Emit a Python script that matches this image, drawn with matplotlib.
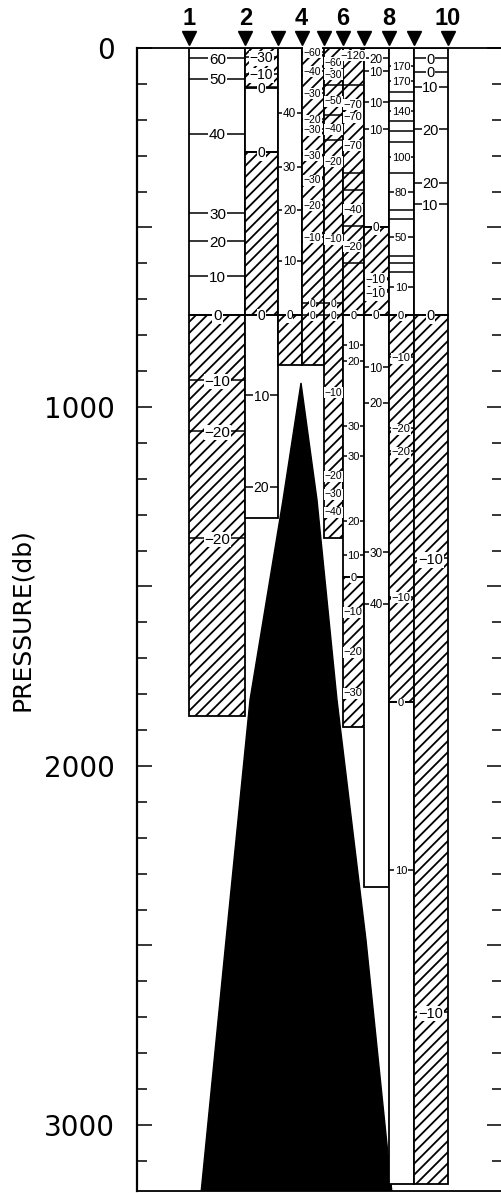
import matplotlib
matplotlib.use("Agg")
import matplotlib.pyplot as plt
from matplotlib.ticker import FixedLocator, MultipleLocator, FuncFormatter

plt.rcParams['font.family'] = ['Liberation Sans', 'DejaVu Sans']
plt.rcParams['hatch.linewidth'] = 1.3

# station positions along the section and the names shown on top
station_x = [52.5, 108.5, 140.5, 164.5, 187.0, 206.0, 226.5, 251.5, 276.5, 310.5]
station_name = ["1", "2", "", "4", "", "6", "", "8", "", "10"]

# blocks between station i and i+1 (pressure in db), hatched = negative
seg_col = [1, 1, 2, 2, 2, 2, 3, 3, 4, 5, 6, 6, 6, 7, 7, 7, 8, 8, 8, 9, 9]
seg_top = [0, 743, 0, 111, 289, 743, 0, 743, 0, 0, 0, 743, 1473, 0, 498, 743, 0, 743, 1822, 0, 743]
seg_bot = [743, 1860, 111, 289, 743, 1310, 743, 882, 882, 1366, 743, 1473, 1892, 498, 743, 2337, 743, 1822, 3165, 743, 3165]
seg_hatch = [0, 1, 1, 0, 1, 0, 0, 1, 1, 1, 1, 0, 1, 0, 1, 0, 0, 1, 0, 0, 1]

# value labels in each column: (pressure, text)
labels_1 = [(28, '60'), (86, '50'), (239, '40'), (460, '30'), (539, '20'), (636, '10'),
            (743, '0'), (925, '−10'), (1067, '−20'), (1365, '−20')]
labels_2 = [(25, '−30'), (72, '−10'), (109, '0'), (289, '0'), (743, '0'), (968, '10'), (1222, '20')]
labels_3 = [(181, '40'), (331, '30'), (451, '20'), (593, '10'), (743, '0')]
labels_4 = [(10, '−60'), (63, '−40'), (124, '−30'), (199, '−20'), (226, '−30'), (298, '−30'),
            (366, '−30'), (437, '−20'), (526, '−10'), (711, '0'), (743, '0')]
labels_5 = [(38, '−60'), (72, '−30'), (145, '−50'), (223, '−40'), (314, '−20'), (530, '−10'),
            (711, '0'), (743, '0'), (958, '−10'), (1190, '−20'), (1240, '−30'), (1290, '−40')]
labels_6 = [(19, '−120'), (155, '−70'), (190, '−70'), (270, '−70'), (448, '−40'), (551, '−20'),
            (743, '0'), (826, '10'), (873, '20'), (1054, '30'), (1136, '30'), (1318, '20'),
            (1412, '10'), (1473, '0'), (1569, '−10'), (1680, '−20'), (1795, '−30')]
labels_7 = [(28, '20'), (65, '10'), (151, '10'), (226, '10'), (498, '0'), (641, '−10'),
            (681, '−10'), (743, '0'), (890, '10'), (988, '20'), (1404, '30'), (1548, '40')]
labels_8 = [(50, '170'), (91, '170'), (175, '140'), (304, '100'), (402, '80'), (527, '50'),
            (665, '10'), (743, '0'), (862, '−10'), (1059, '−20'), (1124, '−20'), (1528, '−10'),
            (1822, '0'), (2289, '10')]
labels_9 = [(28, '0'), (66, '0'), (108, '10'), (226, '20'), (375, '20'), (435, '10'),
            (743, '0'), (1422, '−10'), (2686, '−10')]
col_labels = [labels_1, labels_2, labels_3, labels_4, labels_5, labels_6, labels_7, labels_8, labels_9]
label_size = [11, 10, 8.5, 7.5, 7.5, 8, 8.5, 8, 10.5]

# unlabeled division lines
lines_5 = [103, 187, 257]
lines_6 = [103, 347, 395, 497, 600]
lines_8 = [122, 147, 204, 231, 262, 347, 452, 477, 579, 599, 623]
col_lines = {5: lines_5, 6: lines_6, 8: lines_8}

# bottom topography
topo_x = [64, 89, 113, 146, 164, 180, 200, 229, 255]
topo_p = [3190, 2485, 1816, 1259, 933, 1259, 1816, 2485, 3190]

fig = plt.figure(figsize=(5.02, 11.93), dpi=100)
ax = fig.add_axes([137 / 502, 2 / 1193, 365 / 502, 1143 / 1193])

ax.fill(topo_x, topo_p, color='black', zorder=1.5)

for c, t, b, h in zip(seg_col, seg_top, seg_bot, seg_hatch):
    x0 = station_x[c - 1]
    w = station_x[c] - x0
    ax.bar(x0, b - t, w, bottom=t, align='edge', color='white', edgecolor='black',
           hatch='///' if h else None, linewidth=1.3, zorder=2)

for c, lines in col_lines.items():
    x0, x1 = station_x[c - 1], station_x[c]
    ax.hlines(lines, x0, x1, color='black', lw=1.1, zorder=3)

for i, labs in enumerate(col_labels):
    x0, x1 = station_x[i], station_x[i + 1]
    xc = (x0 + x1) / 2
    for p, txt in labs:
        ax.hlines(p, x0, x1, color='black', lw=1.1, zorder=3)
        ax.text(xc, p, txt, ha='center', va='center_baseline', fontsize=label_size[i], zorder=4,
                bbox=dict(boxstyle='square,pad=0.05', fc='white', ec='none'))

# station markers
trans = ax.get_xaxis_transform()
ax.plot(station_x, [1.0087] * len(station_x), 'v', color='black', markersize=9.5,
        transform=trans, clip_on=False)
for x, name in zip(station_x, station_name):
    if name:
        ax.text(x, 1.026, name, transform=trans, ha='center', va='center',
                fontsize=17, fontweight='bold')

ax.set_xlim(0, 365)
ax.set_ylim(3184, 0)
ax.set_xticks([])

ax.yaxis.set_major_locator(FixedLocator([0, 500, 1000, 1500, 2000, 2500, 3000]))
ax.yaxis.set_minor_locator(MultipleLocator(100))
ax.yaxis.set_major_formatter(FuncFormatter(lambda v, pos: f"{int(v)}" if v % 1000 == 0 else ""))
ax.tick_params(axis='y', which='both', direction='in', right=True, labelsize=20, pad=16)
ax.tick_params(axis='y', which='major', length=11, width=1.1)
ax.tick_params(axis='y', which='minor', length=7, width=1.1)
for lab in ax.get_yticklabels():
    lab.set_family(['DejaVu Sans'])

ax.spines['right'].set_visible(False)
ax.spines['left'].set_linewidth(1.6)
ax.spines['top'].set_linewidth(1.3)
ax.spines['bottom'].set_linewidth(1.3)

ax.set_ylabel('PRESSURE(db)', fontsize=18, family=['Liberation Sans Narrow', 'DejaVu Sans'],
              va='center')
ax.yaxis.set_label_coords(-0.315, 0.5)

fig.savefig('out.png', dpi=100)
